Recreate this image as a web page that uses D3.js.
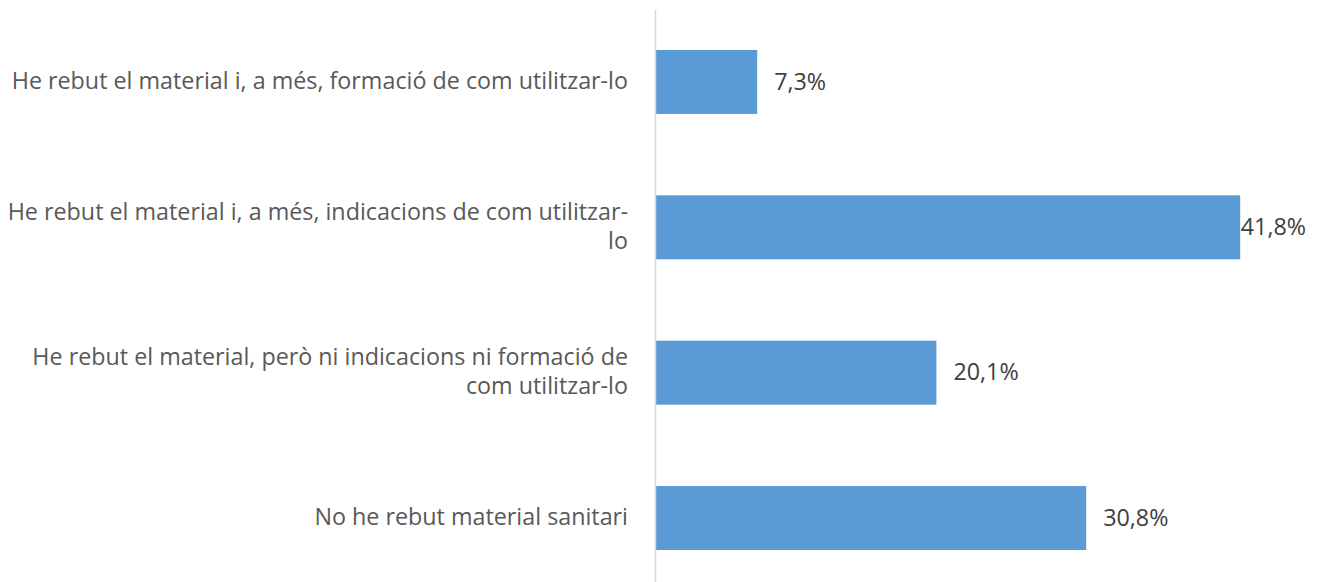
<!DOCTYPE html>
<html>
<head>
<meta http-equiv="Content-Type" content="text/html; charset=UTF-8">
<!-- Load d3.js -->
<script src="https://d3js.org/d3.v7.min.js"></script>
<style>
  body { margin: 0; background: #fff; }
  text { font-family: "Open Sans", Lato, sans-serif; }
</style>
</head>
<body>
<div id="my_dataviz"></div>
<script>
// categories (line breaks as in the original wrapping)
var categories = [
  "He rebut el material i, a més, formació de com utilitzar-lo",
  "He rebut el material i, a més, indicacions de com utilitzar-\nlo",
  "He rebut el material, però ni indicacions ni formació de\ncom utilitzar-lo",
  "No he rebut material sanitari"
];
var values = [7.3, 41.8, 20.1, 30.8];
var valueLabels = ["7,3%", "41,8%", "20,1%", "30,8%"];

var width = 1322, height = 582;
var fontSize = 23.3;

var svg = d3.select("#my_dataviz")
  .append("svg")
    .attr("width", width)
    .attr("height", height);

// scales
var x = d3.scaleLinear()
  .domain([0, 45])
  .range([655, 1285]);

var y = d3.scaleBand()
  .domain(categories)
  .range([9.3, 590.7])
  .paddingInner(0.56)
  .paddingOuter(0.28);

// bars
svg.selectAll("rect")
  .data(values)
  .enter()
  .append("rect")
    .attr("x", x(0))
    .attr("y", function(d, i) { return y(categories[i]); })
    .attr("width", function(d) { return x(d) - x(0); })
    .attr("height", y.bandwidth())
    .attr("fill", "#5b9bd5");

// y axis (category labels)
var yAxis = svg.append("g")
  .attr("transform", "translate(" + x(0) + ",0)")
  .call(d3.axisLeft(y).tickSize(0).tickPadding(27));

yAxis.select(".domain").attr("stroke", "#d9d9d9").attr("stroke-width", 1.5);

yAxis.selectAll(".tick text")
  .attr("fill", "#595959")
  .style("font-size", fontSize + "px")
  .each(function(d) {
    var lines = d.split("\n");
    var t = d3.select(this);
    var lh = 29.5;
    t.text(null);
    lines.forEach(function(l, k) {
      t.append("tspan")
        .attr("x", -27)
        .attr("dy", k == 0 ? ((-(lines.length - 1) * lh / 2) / fontSize + 0.3) + "em" : lh + "px")
        .text(l);
    });
  })
  .attr("dy", null);

// value labels
svg.selectAll(".val")
  .data(values)
  .enter()
  .append("text")
    .attr("class", "val")
    .attr("x", function(d) { return x(d) + 17; })
    .attr("y", function(d, i) { return y(categories[i]) + y.bandwidth() / 2; })
    .attr("dy", "0.33em")
    .attr("fill", "#404040")
    .style("font-size", fontSize + "px")
    .text(function(d, i) { return valueLabels[i]; })
    .each(function() {
      // keep the label inside the chart area, as the original does
      var w = this.getComputedTextLength();
      var xx = +d3.select(this).attr("x");
      if (xx + w > 1306) d3.select(this).attr("x", 1306 - w);
    });
</script>
</body></html>
